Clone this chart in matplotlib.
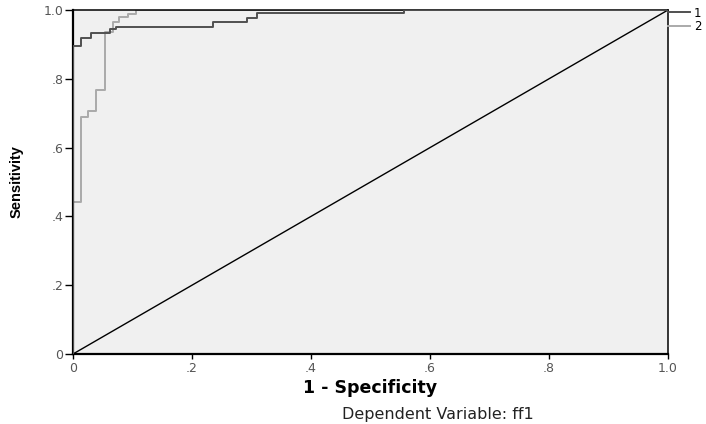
import numpy as np
import matplotlib.pyplot as plt

# ROC points (1 - specificity, sensitivity)
fpr_1 = [0.0, 0.0, 0.0134, 0.0134, 0.030, 0.030, 0.062, 0.062, 0.072, 0.072,
         0.235, 0.235, 0.292, 0.292, 0.309, 0.309, 0.556, 0.556, 1.0]
tpr_1 = [0.0, 0.896, 0.896, 0.920, 0.920, 0.934, 0.934, 0.944, 0.944, 0.951,
         0.951, 0.966, 0.966, 0.977, 0.977, 0.990, 0.990, 1.0, 1.0]

fpr_2 = [0.0, 0.0, 0.0134, 0.0134, 0.025, 0.025, 0.038, 0.038, 0.053, 0.053,
         0.067, 0.067, 0.078, 0.078, 0.092, 0.092, 0.106, 0.106, 1.0]
tpr_2 = [0.0, 0.443, 0.443, 0.690, 0.690, 0.705, 0.705, 0.767, 0.767, 0.935,
         0.935, 0.964, 0.964, 0.979, 0.979, 0.988, 0.988, 1.0, 1.0]

series_names = ['1', '2']
ticks = [0, 0.2, 0.4, 0.6, 0.8, 1.0]
tick_lbls = ['0', '.2', '.4', '.6', '.8', '1.0']

plt.rcParams['font.family'] = ['DejaVu Sans']

W, H = 706, 424
fig = plt.figure(figsize=(W / 100, H / 100), dpi=100)
ax = fig.add_axes([73 / W, 70 / H, 595 / W, 344 / H])
ax.set_facecolor('#f0f0f0')

ax.plot(fpr_1, tpr_1, color='#505050', lw=1.4, label=series_names[0], zorder=3)
ax.plot(fpr_2, tpr_2, color='#aaaaaa', lw=1.4, label=series_names[1], zorder=2)
ax.plot([0, 1], [0, 1], color='black', lw=1.0, zorder=1)

ax.set_xlim(0, 1)
ax.set_ylim(0, 1)
ax.set_xticks(ticks)
ax.set_xticklabels(tick_lbls)
ax.set_yticks(ticks)
ax.set_yticklabels(tick_lbls)
ax.tick_params(axis='y', length=6, width=1, pad=1, labelsize=9, labelcolor='#555555')
ax.tick_params(axis='x', length=3.5, width=1, pad=2, labelsize=9, labelcolor='#555555')
for s in ax.spines.values():
    s.set_linewidth(1.1)
ax.spines['left'].set_linewidth(1.6)
ax.spines['bottom'].set_linewidth(1.6)

ax.set_xlabel('1 - Specificity', fontsize=12.5, fontweight='bold', labelpad=3)
ax.set_ylabel('Sensitivity', fontsize=10.5, fontweight='bold', family=['Liberation Sans'],
              labelpad=14)

ax.legend(loc='upper left', bbox_to_anchor=(1.0, 1.01), frameon=False, fontsize=8.5,
          handlelength=1.9, handletextpad=0.3, labelspacing=0.02, borderaxespad=0, borderpad=0)

fig.text(438 / W, 1 - 414 / H, 'Dependent Variable: ff1', fontsize=11.5, ha='center', va='center',
         color='#222222')

fig.savefig('out.png', dpi=100)
